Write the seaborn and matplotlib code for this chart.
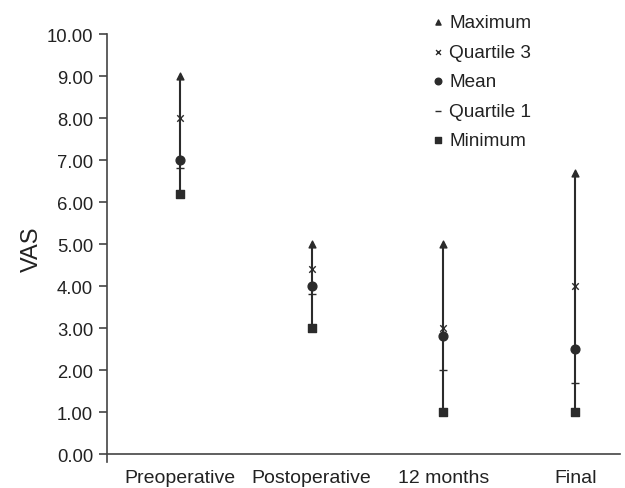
import numpy as np
import pandas as pd
import matplotlib
matplotlib.use("Agg")
import matplotlib.pyplot as plt
import seaborn as sns

# VAS scores at each time point
categories = ["Preoperative", "Postoperative", "12 months", "Final"]
maximum = [9.0, 5.0, 5.0, 6.7]
quartile3 = [8.0, 4.4, 3.0, 4.0]
mean = [7.0, 4.0, 2.8, 2.5]
quartile1 = [6.8, 3.8, 2.0, 1.7]
minimum = [6.2, 3.0, 1.0, 1.0]
yticks = [0, 1, 2, 3, 4, 5, 6, 7, 8, 9, 10]

stats = {
    "Maximum": maximum,
    "Quartile 3": quartile3,
    "Mean": mean,
    "Quartile 1": quartile1,
    "Minimum": minimum,
}
rows = []
for name, vals in stats.items():
    for cat, v in zip(categories, vals):
        rows.append({"time": cat, "VAS": v, "stat": name})
df = pd.DataFrame(rows)

sns.set_style("white")
plt.rcParams["font.family"] = ["Liberation Sans", "DejaVu Sans"]
col = "#2b2b2b"

fig = plt.figure(figsize=(6.25, 4.89), dpi=100)
ax = fig.add_axes([107 / 625, 1 - 463 / 489, 513 / 625, 428 / 489])

# vertical range line from minimum to maximum
ax.vlines(categories, minimum, maximum, color=col, linewidth=1.5, zorder=1)

markers = {"Maximum": "^", "Quartile 3": "x", "Mean": "o", "Quartile 1": "_", "Minimum": "s"}
sizes = {"Maximum": 24, "Quartile 3": 22, "Mean": 40, "Quartile 1": 28, "Minimum": 26}
for name in stats:
    sub = df[df["stat"] == name]
    sns.scatterplot(data=sub, x="time", y="VAS", marker=markers[name], s=sizes[name],
                    color=col, edgecolor=col, linewidth=1.0, ax=ax, label=name, zorder=3)

ax.set_xlim(-0.554, 3.34)
ax.set_ylim(-0.19, 10)
ax.set_yticks(yticks)
ax.set_yticklabels([f"{t:.2f}" for t in yticks])
ax.spines["top"].set_visible(False)
ax.spines["right"].set_visible(False)
ax.spines["bottom"].set_position(("data", 0))
for s in ["left", "bottom"]:
    ax.spines[s].set_color("#444444")
    ax.spines[s].set_linewidth(1.2)
ax.tick_params(axis="y", left=True, length=6, width=1.2, color="#444444", labelsize=13.3, pad=4)
ax.tick_params(axis="x", bottom=False, length=0, labelsize=14, pad=11)
for lab in ax.get_xticklabels() + ax.get_yticklabels():
    lab.set_color("#222222")
ax.set_xlabel("")
ax.set_ylabel("VAS", fontsize=17, color="#222222", labelpad=3)

handles, labels = ax.get_legend_handles_labels()
leg = ax.legend(handles, labels, loc="upper left", bbox_to_anchor=(411 / 625, 1.004),
                bbox_transform=fig.transFigure, frameon=False, fontsize=13.7,
                handletextpad=0.1, labelspacing=0.64, handlelength=1.0, markerscale=0.75)
for t in leg.get_texts():
    t.set_color("#222222")

fig.savefig("out.png", dpi=100)
